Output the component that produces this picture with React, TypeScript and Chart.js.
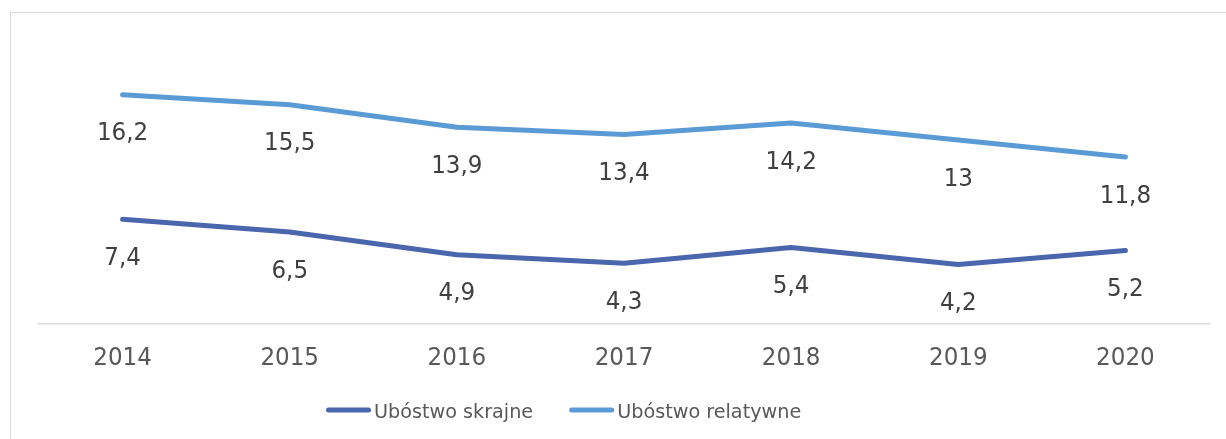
import React, { useEffect, useRef } from "react";
import { Chart, registerables } from "chart.js";

Chart.register(...registerables);

const years = ["2014", "2015", "2016", "2017", "2018", "2019", "2020"];
const skrajne = [7.4, 6.5, 4.9, 4.3, 5.4, 4.2, 5.2];
const relatywne = [16.2, 15.5, 13.9, 13.4, 14.2, 13, 11.8];
const seriesNames = ["Ubóstwo skrajne", "Ubóstwo relatywne"];
const seriesColors = ["#4A66AC", "#5B9BD5"];

const FONT = "'DejaVu Sans', Verdana, sans-serif";
const TEXT = "#404040";
const AXIS_TEXT = "#595959";

function drawText(ctx: any, text: string, x: number, y: number, size: number, sx: number, align: string, color: string) {
  ctx.save();
  ctx.font = `${size}px ${FONT}`;
  ctx.fillStyle = color;
  ctx.textBaseline = "alphabetic";
  ctx.textAlign = align;
  ctx.translate(x, y);
  ctx.scale(sx, 1);
  ctx.fillText(text, 0, 0);
  ctx.restore();
}

const labelsPlugin = {
  id: "valueLabels",
  afterDatasetsDraw(chart: any) {
    chart.data.datasets.forEach((ds: any, i: number) => {
      const meta = chart.getDatasetMeta(i);
      meta.data.forEach((pt: any, j: number) => {
        const v = ds.data[j];
        drawText(chart.ctx, String(v).replace(".", ","), pt.x, pt.y + 45.5, 24, 0.96, "center", TEXT);
      });
    });
  },
};

const xTicksPlugin = {
  id: "xTickLabels",
  afterDraw(chart: any) {
    const scale = chart.scales.x;
    scale.ticks.forEach((t: any, i: number) => {
      const x = scale.getPixelForTick(i);
      drawText(chart.ctx, String(scale.getLabelForValue(t.value)), x, scale.top + 41, 24, 0.96, "center", AXIS_TEXT);
    });
  },
};

const legendPlugin = {
  id: "customLegend",
  afterDraw(chart: any) {
    const ctx = chart.ctx;
    const lineW = 45;
    const gap = 3;
    const itemGap = 36;
    const size = 20;
    const sx = 0.96;
    let x = 326;
    const y = 410;
    chart.data.datasets.forEach((ds: any) => {
      ctx.save();
      ctx.strokeStyle = ds.borderColor;
      ctx.lineWidth = 5;
      ctx.lineCap = "round";
      ctx.beginPath();
      ctx.moveTo(x + 2.5, y);
      ctx.lineTo(x + lineW - 2.5, y);
      ctx.stroke();
      ctx.font = `${size}px ${FONT}`;
      const w = ctx.measureText(ds.label).width * sx;
      ctx.restore();
      drawText(ctx, ds.label, x + lineW + gap, y + 7.5, size, sx, "left", AXIS_TEXT);
      x += lineW + gap + w + itemGap;
    });
  },
};

export default function App() {
  const ref = useRef<HTMLCanvasElement>(null);
  useEffect(() => {
    if (!ref.current) return;
    const chart = new Chart(ref.current, {
      type: "line",
      data: {
        labels: years,
        datasets: [
          {
            label: seriesNames[0],
            data: skrajne,
            borderColor: seriesColors[0],
            backgroundColor: seriesColors[0],
            borderWidth: 5,
            borderCapStyle: "round",
            borderJoinStyle: "round",
            pointRadius: 0,
            tension: 0,
          },
          {
            label: seriesNames[1],
            data: relatywne,
            borderColor: seriesColors[1],
            backgroundColor: seriesColors[1],
            borderWidth: 5,
            borderCapStyle: "round",
            borderJoinStyle: "round",
            pointRadius: 0,
            tension: 0,
          },
        ],
      },
      options: {
        animation: false,
        responsive: false,
        maintainAspectRatio: false,
        layout: { padding: { left: 39, right: 17, top: 41, bottom: 0 } },
        plugins: {
          legend: { display: false },
          tooltip: { enabled: false },
        },
        scales: {
          x: {
            offset: true,
            grid: { display: false, drawTicks: false },
            border: { display: true, color: "#D9D9D9", width: 1.5 },
            ticks: { display: false },
            afterFit(scale: any) {
              scale.height = 115;
            },
          },
          y: {
            display: false,
            min: 0,
            max: 20,
          },
        },
      },
      plugins: [labelsPlugin, xTicksPlugin, legendPlugin],
    });
    return () => chart.destroy();
  }, []);
  return (
    <div style={{ position: "fixed", left: 0, top: 0, width: 1226, height: 439, background: "#fff", overflow: "hidden" }}>
      <div
        style={{
          position: "absolute",
          left: 10,
          top: 12,
          width: 1260,
          height: 480,
          border: "1.5px solid #D9D9D9",
          boxSizing: "border-box",
        }}
      />
      <canvas ref={ref} width={1226} height={439} style={{ position: "absolute", left: 0, top: 0 }} />
    </div>
  );
}
